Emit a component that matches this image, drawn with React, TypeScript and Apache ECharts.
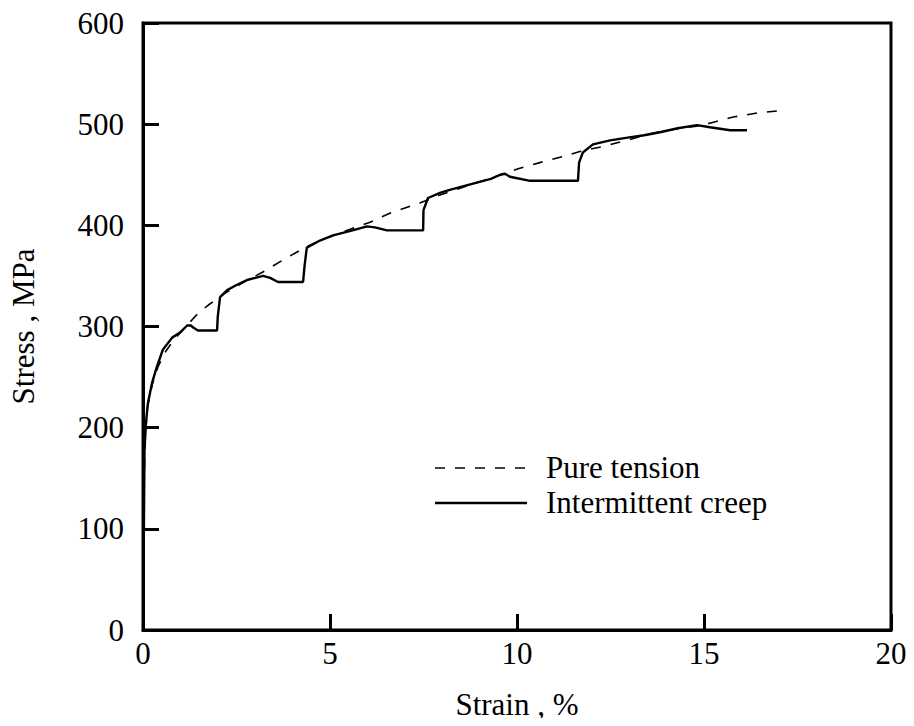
import React, { useEffect, useRef } from "react";
import * as echarts from "echarts";

const seriesNames = ["Pure tension", "Intermittent creep"];

const pureTension: [number, number][] = [
  [0.01, 60], [0.03, 150], [0.06, 190], [0.12, 220], [0.25, 243], [0.4, 260], [0.6, 275],
  [0.85, 288], [1.1, 298], [1.47, 313], [1.74, 321], [2.2, 333], [2.7, 344], [3.26, 355],
  [3.8, 367], [4.33, 378], [4.8, 386], [5.3, 393], [6.07, 403], [6.6, 412], [7.4, 422],
  [7.94, 430], [8.5, 437], [9.0, 443], [9.5, 449], [10.03, 456], [10.61, 462], [11.23, 468],
  [11.68, 473], [12.3, 478], [12.94, 484], [13.5, 490], [14.2, 495], [14.8, 498], [15.16, 501],
  [15.78, 507], [16.42, 511], [17.2, 514],
];

const intermittentCreep: [number, number][] = [
  [0.02, 84], [0.03, 130], [0.04, 178], [0.08, 205], [0.13, 224], [0.24, 244], [0.37, 260],
  [0.53, 277], [0.78, 289], [0.99, 294], [1.18, 301], [1.28, 301], [1.34, 299], [1.47, 296],
  [1.7, 296], [1.98, 296], [2.0, 310], [2.06, 329], [2.25, 336], [2.5, 341], [2.78, 346],
  [3.0, 348], [3.21, 350], [3.4, 348], [3.61, 344], [4.0, 344], [4.28, 344], [4.32, 360],
  [4.38, 378], [4.73, 385], [5.08, 390], [5.6, 395], [5.99, 399], [6.2, 398], [6.52, 395],
  [7.0, 395], [7.49, 395], [7.5, 415], [7.62, 427], [7.94, 432], [8.2, 435], [8.6, 439],
  [9.0, 443], [9.3, 446], [9.55, 450], [9.68, 451], [9.81, 448], [10.35, 444], [11.0, 444],
  [11.63, 444], [11.66, 462], [11.76, 472], [12.03, 480], [12.49, 484], [13.0, 487],
  [13.4, 489], [13.82, 492], [14.3, 496], [14.81, 499], [15.16, 497], [15.7, 494], [16.15, 494],
];

const xTicks = [0, 5, 10, 15, 20];
const yTicks = [0, 100, 200, 300, 400, 500, 600];

const FONT = "'Liberation Serif', 'Times New Roman', serif";
const FS = 31;

export default function App() {
  const ref = useRef<HTMLDivElement>(null);
  useEffect(() => {
    if (!ref.current) return;
    const chart = echarts.init(ref.current, null, { renderer: "svg" });
    chart.setOption({
      animation: false,
      backgroundColor: "#fff",
      grid: {
        left: 143, top: 23, right: 23, bottom: 96,
        show: true, borderColor: "#000", borderWidth: 3, backgroundColor: "transparent",
      },
      graphic: [
        {
          type: "line",
          shape: { x1: 435, y1: 468, x2: 527, y2: 468 },
          style: { stroke: "#000", lineWidth: 1.6, lineDash: [10, 10] },
        },
        {
          type: "text",
          x: 546, y: 467,
          style: { text: seriesNames[0], font: `${FS}px ${FONT}`, fill: "#000", verticalAlign: "middle", align: "left" },
        },
        {
          type: "line",
          shape: { x1: 435, y1: 503, x2: 527, y2: 503 },
          style: { stroke: "#000", lineWidth: 2.4 },
        },
        {
          type: "text",
          x: 546, y: 502,
          style: { text: seriesNames[1], font: `${FS}px ${FONT}`, fill: "#000", verticalAlign: "middle", align: "left" },
        },
      ],
      xAxis: {
        type: "value",
        min: xTicks[0],
        max: xTicks[xTicks.length - 1],
        interval: 5,
        name: "Strain , %",
        nameLocation: "middle",
        nameGap: 59,
        nameTextStyle: { fontFamily: FONT, fontSize: FS, color: "#000" },
        axisLine: { show: true, lineStyle: { color: "#000", width: 3 } },
        axisTick: { show: true, inside: true, length: 16, lineStyle: { color: "#000", width: 3 } },
        axisLabel: { fontFamily: FONT, fontSize: FS, color: "#000", margin: 8 },
        splitLine: { show: false },
      },
      yAxis: {
        type: "value",
        min: yTicks[0],
        max: yTicks[yTicks.length - 1],
        interval: 100,
        name: "Stress , MPa",
        nameLocation: "middle",
        nameGap: 104,
        nameRotate: 90,
        nameTextStyle: { fontFamily: FONT, fontSize: FS, color: "#000" },
        axisLine: { show: true, lineStyle: { color: "#000", width: 3 } },
        axisTick: { show: true, inside: true, length: 16, lineStyle: { color: "#000", width: 3 } },
        axisLabel: { fontFamily: FONT, fontSize: FS, color: "#000", margin: 19 },
        splitLine: { show: false },
      },
      series: [
        {
          name: seriesNames[0],
          type: "line",
          data: pureTension,
          symbol: "none",
          lineStyle: { color: "#000", width: 1.6, type: [10, 10] },
          itemStyle: { color: "#000" },
          z: 2,
        },
        {
          name: seriesNames[1],
          type: "line",
          data: intermittentCreep,
          symbol: "none",
          lineStyle: { color: "#000", width: 2.4, type: "solid" },
          itemStyle: { color: "#000" },
          z: 3,
        },
      ],
    });
    return () => chart.dispose();
  }, []);
  return <div ref={ref} style={{ width: 914, height: 726, margin: -8 }} />;
}
